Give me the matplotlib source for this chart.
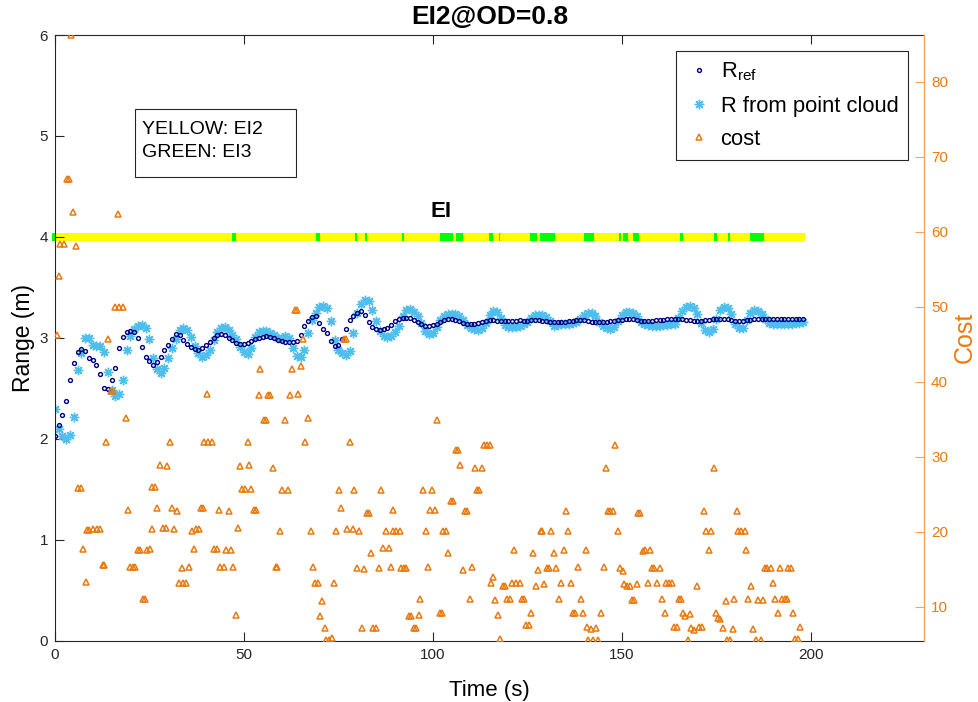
import numpy as np
import matplotlib.pyplot as plt
from matplotlib.lines import Line2D
from matplotlib.patches import Rectangle

plt.rcParams['font.family'] = ['Liberation Sans', 'DejaVu Sans']
plt.rcParams['mathtext.fontset'] = 'custom'
plt.rcParams['mathtext.rm'] = 'Liberation Sans'

# range samples, one per second
t_range = np.arange(0, 199)

r_ref = [
    2.03, 2.14, 2.24, 2.37, 2.58, 2.75, 2.86, 2.89, 2.87, 2.80,
    2.78, 2.73, 2.64, 2.50, 2.49, 2.58, 2.70, 2.90, 3.01, 3.06,
    3.07, 3.06, 3.00, 2.91, 2.81, 2.77, 2.73, 2.76, 2.81, 2.88,
    2.93, 2.99, 3.04, 3.03, 2.98, 2.94, 2.91, 2.89, 2.88, 2.90,
    2.93, 2.96, 3.00, 3.03, 3.04, 3.03, 3.00, 2.98, 2.95, 2.94,
    2.94, 2.95, 2.97, 2.99, 3.00, 3.01, 3.02, 3.01, 3.00, 2.98,
    2.97, 2.96, 2.96, 2.96, 2.97, 3.03, 3.12, 3.17, 3.21, 3.22,
    3.15, 3.09, 3.05, 2.97, 2.92, 2.93, 2.99, 3.09, 3.18, 3.22,
    3.25, 3.27, 3.23, 3.16, 3.11, 3.09, 3.08, 3.085, 3.10, 3.13,
    3.17, 3.19, 3.20, 3.20, 3.195, 3.18, 3.16, 3.14, 3.12, 3.12,
    3.13, 3.14, 3.16, 3.18, 3.19, 3.19, 3.18, 3.17, 3.15, 3.14,
    3.14, 3.14, 3.15, 3.16, 3.17, 3.18, 3.18, 3.17, 3.17, 3.17,
    3.17, 3.17, 3.17, 3.18, 3.17, 3.17, 3.18, 3.18, 3.18, 3.17,
    3.17, 3.16, 3.16, 3.16, 3.16, 3.16, 3.17, 3.17, 3.18, 3.18,
    3.18, 3.17, 3.16, 3.16, 3.16, 3.16, 3.16, 3.17, 3.17, 3.18,
    3.18, 3.19, 3.19, 3.19, 3.18, 3.17, 3.17, 3.17, 3.17, 3.18,
    3.18, 3.18, 3.19, 3.19, 3.19, 3.19, 3.19, 3.18, 3.18, 3.17,
    3.17, 3.17, 3.18, 3.18, 3.19, 3.19, 3.19, 3.19, 3.19, 3.18,
    3.17, 3.17, 3.17, 3.18, 3.18, 3.19, 3.19, 3.19, 3.19, 3.19,
    3.19, 3.19, 3.19, 3.19, 3.19, 3.19, 3.19, 3.19, 3.19,
]

r_cloud = [
    2.30, 2.10, 2.03, 2.00, 2.04, 2.22, 2.68, 2.85, 3.00, 3.00,
    2.93, 2.92, 2.92, 2.86, 2.66, 2.48, 2.42, 2.44, 2.58, 2.88,
    3.02, 3.09, 3.12, 3.13, 3.10, 2.99, 2.80, 2.69, 2.655, 2.70,
    2.80, 2.90, 2.99, 3.08, 3.10, 3.08, 3.01, 2.92, 2.85, 2.81,
    2.83, 2.88, 2.98, 3.06, 3.10, 3.11, 3.08, 3.03, 2.99, 2.91,
    2.86, 2.84, 2.90, 3.01, 3.06, 3.07, 3.07, 3.05, 3.03, 3.00,
    3.00, 3.02, 3.00, 2.90, 2.82, 2.81, 2.88, 3.05, 3.18, 3.25,
    3.31, 3.32, 3.30, 3.17, 2.98, 2.88, 2.85, 2.83, 2.87, 3.05,
    3.25, 3.34, 3.38, 3.37, 3.28, 3.17, 3.07, 3.02, 3.01, 3.02,
    3.06, 3.12, 3.22, 3.28, 3.29, 3.26, 3.22, 3.15, 3.07, 3.04,
    3.05, 3.11, 3.18, 3.22, 3.24, 3.24, 3.24, 3.22, 3.18, 3.13,
    3.10, 3.09, 3.08, 3.10, 3.15, 3.23, 3.27, 3.26, 3.20, 3.13,
    3.11, 3.11, 3.11, 3.12, 3.14, 3.16, 3.20, 3.23, 3.23, 3.23,
    3.21, 3.17, 3.12, 3.13, 3.14, 3.14, 3.14, 3.15, 3.16, 3.19,
    3.23, 3.25, 3.25, 3.22, 3.16, 3.12, 3.10, 3.09, 3.11, 3.17,
    3.23, 3.26, 3.26, 3.25, 3.22, 3.16, 3.14, 3.13, 3.12, 3.12,
    3.12, 3.13, 3.13, 3.14, 3.14, 3.20, 3.27, 3.31, 3.32, 3.30,
    3.24, 3.15, 3.08, 3.06, 3.09, 3.19, 3.28, 3.31, 3.30, 3.24,
    3.14, 3.10, 3.10, 3.18, 3.25, 3.28, 3.27, 3.24, 3.19, 3.15,
    3.14, 3.14, 3.14, 3.14, 3.14, 3.14, 3.15, 3.15, 3.16,
]

# cost samples (time, value)
cost_t = [
    0.5, 1.1, 1.5, 2.3, 3.1, 3.8, 4.3, 4.9, 5.5, 6.2, 6.8, 7.5, 8.2, 8.4, 9.1,
    10.2, 11.1, 12.0, 12.7, 13.0, 13.6, 14.2, 14.8, 15.3, 15.9, 16.7, 17.1, 18.0,
    18.7, 19.3, 19.9,
    20.6, 21.3, 21.9, 22.6, 23.2, 23.8, 24.3, 25.1, 25.6, 25.8, 26.5, 27.1, 27.9,
    28.6, 29.3, 29.7, 30.4, 31.0, 31.6, 32.3, 32.9, 33.6, 34.0, 34.7, 35.5, 36.2,
    36.8, 37.4, 38.1, 38.7, 39.1, 39.5,
    40.2, 40.6, 41.5, 42.0, 42.9, 43.4, 43.8, 44.7, 45.2, 46.0, 46.6, 47.2, 47.9,
    48.5, 49.1, 49.6, 50.4, 51.0, 51.4, 51.9, 52.6, 53.3, 53.9, 54.4, 55.4, 55.9,
    56.4, 57.0, 57.8, 58.4, 58.9, 59.6,
    60.2, 61.0, 61.6, 62.1, 62.8, 63.6, 64.0, 64.3, 65.0, 65.7, 66.3, 66.9, 67.7,
    68.2, 68.9, 69.5, 70.1, 70.8, 71.4, 71.8, 72.5, 73.2, 73.8, 74.5, 75.2, 75.8,
    76.6, 77.0, 77.4, 78.1, 78.8, 79.2, 80.0, 80.6, 81.2, 81.8,
    82.6, 83.1, 83.6, 84.2, 84.9, 85.7, 86.3, 86.8, 87.6, 88.3, 88.9, 89.5, 89.6,
    90.3, 91.2, 91.7, 92.3, 93.0, 93.6, 94.2, 94.9, 95.6, 96.3, 96.7, 97.4, 98.1,
    98.7, 99.2, 99.9,
    100.6, 101.2, 101.9, 102.4, 102.7, 103.4, 104.0, 104.9, 105.3, 106.1, 106.7,
    107.3, 107.9, 108.6, 109.0, 109.8, 110.5, 111.1, 111.7, 112.2, 113.0, 113.6,
    114.3, 115.0, 115.5, 115.9, 116.5, 117.2, 117.8, 118.5, 119.0, 119.6,
    120.3, 121.0, 121.5, 122.1, 123.0, 123.6, 124.2, 124.7, 125.4, 126.0, 126.6,
    127.3, 127.9, 128.5, 128.9, 129.5, 130.1, 130.8, 131.4, 132.0, 132.7, 133.3,
    133.9, 134.6, 135.3, 135.9, 136.5, 137.0, 137.7, 138.4, 139.1, 139.7,
    140.4, 140.9, 141.1, 141.9, 142.3, 143.2, 143.7, 144.5, 145.2, 145.7, 146.4,
    147.0, 147.6, 148.2, 148.9, 149.5, 150.2, 150.7, 151.5, 152.3, 152.6, 153.2,
    154.1, 154.3, 154.9, 155.6, 156.1, 156.9, 157.4, 158.0, 158.6, 159.4, 160.1,
    160.7,
    161.3, 161.8, 162.4, 163.3, 163.9, 164.5, 165.1, 165.7, 166.2, 166.8, 167.4,
    168.0, 168.4, 169.1, 169.9, 170.4, 171.1, 171.8, 172.4, 173.0, 173.6, 174.4,
    175.0, 175.5, 176.1, 176.9, 177.5, 177.9, 178.6, 179.4, 179.7,
    180.4, 180.8, 181.6, 182.5, 182.9, 183.5, 184.2, 184.8, 185.5, 186.0, 186.9,
    187.4, 187.8, 188.5, 189.4, 189.9, 190.5, 191.3, 191.8, 192.4, 193.1, 193.6,
    193.9, 194.8, 195.3, 195.9, 196.6, 197.2,
]
cost_val = [
    46.2, 54.1, 58.4, 58.4, 67.0, 67.0, 86.2, 62.6, 58.1, 25.8, 25.8, 17.7, 13.3, 20.2, 20.2,
    20.3, 20.3, 20.3, 15.5, 15.5, 31.9, 45.7, 38.7, 38.7, 50.0, 62.3, 50.0, 50.0,
    35.2, 22.9, 15.3,
    15.3, 15.3, 17.6, 17.6, 11.0, 11.0, 17.6, 17.7, 20.3, 25.9, 25.9, 23.2, 28.9,
    20.5, 20.5, 28.8, 31.9, 23.1, 20.3, 22.8, 13.1, 15.2, 13.1, 13.1, 15.3, 20.1,
    17.7, 20.3, 20.3, 23.1, 23.1, 31.9,
    38.3, 31.9, 31.9, 17.7, 17.7, 22.9, 15.3, 15.3, 17.6, 22.7, 17.6, 15.3, 8.9,
    20.5, 28.7, 25.7, 25.7, 31.9, 28.9, 25.7, 22.9, 22.9, 38.2, 41.7, 34.9, 34.9,
    38.2, 38.2, 28.5, 15.3, 15.3, 20.1,
    25.6, 34.9, 25.6, 38.2, 41.7, 49.5, 49.5, 38.4, 42.1, 45.7, 31.9, 35.1, 20.1,
    15.3, 13.1, 13.1, 8.7, 10.7, 7.1, 5.6, 5.6, 5.8, 13.1, 20.1, 25.6, 23.1,
    45.7, 45.7, 20.3, 31.9, 20.3, 25.6, 15.1, 20.1, 7.2, 15.0,
    22.5, 22.5, 17.2, 7.2, 7.2, 15.2, 25.6, 17.8, 20.1, 17.8, 15.3, 22.9, 20.1,
    20.1, 20.1, 15.2, 15.2, 15.2, 8.7, 8.7, 7.2, 7.2, 8.9, 11.0, 25.6, 20.1,
    15.3, 22.9, 25.6,
    22.9, 34.9, 9.1, 9.1, 20.1, 20.1, 17.2, 24.1, 24.1, 30.9, 30.9,
    28.9, 14.9, 22.7, 22.7, 11.0, 15.3, 28.5, 25.6, 25.6, 28.5, 31.5,
    31.5, 31.5, 13.1, 14.0, 10.9, 8.9, 5.7, 12.8, 12.8, 11.0,
    11.0, 13.1, 17.6, 13.1, 13.1, 11.0, 11.0, 7.5, 7.5, 9.1, 17.2,
    12.8, 14.9, 20.1, 20.1, 13.0, 15.1, 15.1, 20.1, 17.2, 15.1, 11.0,
    13.1, 17.6, 22.7, 20.1, 13.1, 9.1, 9.1, 15.3, 11.0, 9.1,
    17.6, 7.3, 5.6, 7.0, 5.6, 7.1, 5.6, 9.1, 15.3, 28.5, 22.7,
    22.7, 22.7, 31.5, 20.1, 15.1, 14.8, 13.0, 12.8, 12.8, 10.9, 10.9,
    13.0, 22.5, 22.5, 17.4, 17.6, 13.1, 17.6, 15.2, 15.2, 13.1, 15.2,
    11.0,
    9.1, 13.1, 13.1, 13.1, 7.3, 7.3, 11.0, 11.0, 9.1, 8.7, 5.6,
    9.0, 7.2, 6.9, 12.8, 7.3, 7.3, 22.7, 20.1, 17.6, 20.1, 28.5,
    9.1, 8.5, 8.4, 7.2, 10.7, 5.6, 5.6, 7.0, 11.0,
    22.7, 20.1, 20.1, 20.1, 17.6, 11.0, 12.8, 7.0, 5.5, 10.9, 5.6,
    10.9, 15.2, 15.2, 15.2, 13.1, 11.0, 9.1, 15.2, 11.0, 11.0, 11.0,
    15.2, 15.2, 9.1, 5.7, 5.7, 7.3,
]

# EI state along time: EI2 (yellow) everywhere except these EI3 (green) spans
ei_start, ei_end = -0.7, 198.4
ei3_spans = [
    (-0.7, 0.4), (46.8, 48.0), (69.1, 70.2), (79.5, 80.0), (82.0, 82.6),
    (91.8, 92.5), (101.8, 105.3), (106.2, 108.0), (114.8, 115.9), (117.4, 117.9),
    (125.6, 127.6), (128.3, 132.2), (140.1, 142.7), (149.2, 149.8), (150.4, 151.6),
    (152.9, 154.5), (165.5, 166.2), (174.5, 175.2), (178.2, 178.6), (183.8, 187.6),
]
ei_level = 4.0

navy = '#00007f'
cyan = '#4dbeee'
orange = '#ea7a10'
axis_orange = '#f2a45e'
dark = '#262626'

fig = plt.figure(figsize=(9.79, 7.02), dpi=100)
ax = fig.add_axes([0.056, 0.0873, 0.888, 0.8628])

# EI band
ax.broken_barh([(ei_start, ei_end - ei_start)], (ei_level - 0.043, 0.086),
               facecolors='#ffff00', edgecolor='none', zorder=1, clip_on=False)
ax.broken_barh([(a, b - a) for a, b in ei3_spans], (ei_level - 0.043, 0.086),
               facecolors='#00ff00', edgecolor='none', zorder=1.1, clip_on=False)
ax.text(102.3, 4.25, 'EI', fontsize=16, fontweight='bold', ha='center', va='center')

ax.plot(t_range, r_cloud, ls='none', marker=(8, 2, 0), ms=6.8, mew=1.0,
        color=cyan, zorder=2)
ax.plot(t_range, r_ref, ls='none', marker='o', ms=2.8, mew=1.0, mfc='none',
        mec=navy, zorder=3)

ax.set_xlim(0, 230)
ax.set_ylim(0, 6)
ax.set_xticks([0, 50, 100, 150, 200])
ax.set_yticks([0, 1, 2, 3, 4, 5, 6])
ax.set_xlabel('Time (s)', fontsize=16, labelpad=13)
ax.set_ylabel('Range (m)', fontsize=16.5, labelpad=3)
ax.set_title('EI2@OD=0.8', fontsize=19, fontweight='bold', pad=8)
ax.tick_params(direction='in', length=6.5, width=0.8, labelsize=11,
               colors=dark, top=True, right=False, pad=5)
for side in ['left', 'bottom', 'top']:
    ax.spines[side].set_color(dark)
    ax.spines[side].set_linewidth(0.8)
ax.spines['right'].set_visible(False)

# note box for the band colours
ax.add_patch(Rectangle((0.0923, 0.7656), 0.1852, 0.1122, transform=ax.transAxes,
                       fc='white', ec=dark, lw=0.8, zorder=5))
ax.text(0.1003, 0.8253, 'YELLOW: EI2\nGREEN: EI3', transform=ax.transAxes,
        fontsize=14, ha='left', va='center', linespacing=1.45, zorder=6)

ax2 = ax.twinx()
ax2.plot(cost_t, cost_val, ls='none', marker='^', ms=5, mew=1.1, mfc='none',
         mec=orange, zorder=4)
ax2.set_ylim(5.45, 86.2)
ax2.set_yticks([10, 20, 30, 40, 50, 60, 70, 80])
ax2.set_ylabel('Cost', fontsize=18, color=orange, labelpad=3)
ax2.tick_params(direction='in', length=6.5, width=0.8, labelsize=11,
                colors=axis_orange, labelcolor=orange, pad=5)
ax2.spines['right'].set_color(axis_orange)
ax2.spines['right'].set_linewidth(1.0)
for side in ['left', 'bottom', 'top']:
    ax2.spines[side].set_visible(False)

handles = [
    Line2D([], [], ls='none', marker='o', ms=2.8, mew=1.0, mfc='none', mec=navy),
    Line2D([], [], ls='none', marker=(8, 2, 0), ms=6.8, mew=1.0, color=cyan),
    Line2D([], [], ls='none', marker='^', ms=5, mew=1.1, mfc='none', mec=orange),
]
labels = [r'R$_{\mathrm{ref}}$', 'R from point cloud', 'cost']
leg = ax2.legend(handles, labels, loc='upper right', bbox_to_anchor=(0.9816, 0.9736),
                 borderaxespad=0, fontsize=15.8, fancybox=False, framealpha=1,
                 edgecolor=dark, handlelength=1.2, handletextpad=0.36,
                 labelspacing=0.55, borderpad=0.45)
leg.get_frame().set_linewidth(0.8)

fig.savefig('out.png', dpi=100)
